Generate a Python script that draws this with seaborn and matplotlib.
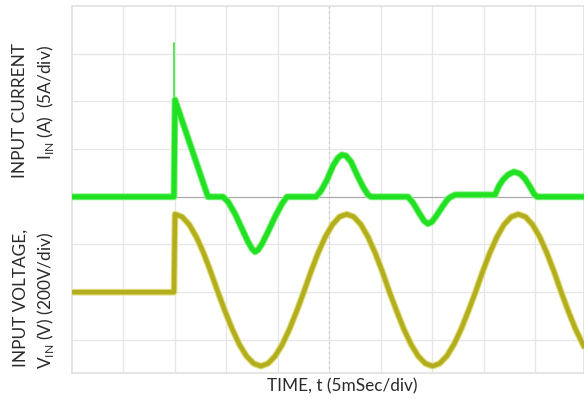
import matplotlib
matplotlib.use("Agg")
import matplotlib.pyplot as plt
import seaborn as sns
import pandas as pd

# ---- data ----
# input current trace (time in ms, current in A)
time_i_ms = [0.00, 9.90, 10.00, 13.20, 14.66, 15.15, 15.83, 16.50, 17.09, 17.48,
             17.77, 18.06, 18.45, 19.03, 19.71, 20.39, 20.87, 23.69, 24.18, 24.76,
             25.34, 25.83, 26.21, 26.60, 27.09, 27.67, 28.25, 28.74, 29.03, 32.62,
             33.11, 33.69, 34.18, 34.56, 34.95, 35.44, 36.02, 36.51, 36.80, 37.20,
             41.07, 41.46, 41.84, 42.33, 42.91, 43.50, 43.98, 44.47, 44.86, 45.15,
             49.71]
current_a = [0.00, 0.00, 10.17, 0.00, 0.00, -0.52, -1.78, -3.35, -4.72, -5.45,
             -5.77, -5.56, -4.93, -3.67, -2.10, -0.73, 0.00, 0.00, 0.63, 1.78,
             3.25, 4.09, 4.40, 4.30, 3.67, 2.31, 1.05, 0.21, 0.00, 0.00,
             -0.63, -1.68, -2.52, -2.83, -2.62, -1.89, -0.94, -0.21, 0.00, 0.21,
             0.21, 1.15, 1.78, 2.31, 2.62, 2.41, 1.89, 1.05, 0.31, 0.00,
             0.00]
# inrush spike at switch-on
spike_t_ms = 9.90
spike_peak_a = 16.1

# input voltage trace (time in ms, voltage in V)
time_v_ms = [0.00, 9.90, 10.00, 10.69, 11.39, 12.08, 12.78, 13.47, 14.17, 14.86,
             15.56, 16.25, 16.94, 17.64, 18.33, 19.03, 19.72, 20.42, 21.11, 21.81,
             22.50, 23.19, 23.89, 24.58, 25.28, 25.97, 26.67, 27.36, 28.06, 28.75,
             29.44, 30.14, 30.83, 31.53, 32.22, 32.92, 33.61, 34.31, 35.00, 35.69,
             36.39, 37.08, 37.78, 38.47, 39.17, 39.86, 40.56, 41.25, 41.94, 42.64,
             43.33, 44.03, 44.72, 45.42, 46.11, 46.81, 47.50, 48.19, 48.89, 49.71]
voltage_v = [0, 0, 327, 316, 283, 231, 164, 85, 0, -80,
             -155, -219, -268, -299, -310, -299, -268, -219, -155, -80,
             0, 85, 164, 231, 283, 316, 327, 316, 283, 231,
             164, 85, 0, -80, -155, -219, -268, -299, -310, -299,
             -268, -219, -155, -80, 0, 85, 164, 231, 283, 316,
             327, 316, 283, 231, 164, 85, 0, -80, -155, -228]

# scope settings
MS_PER_DIV = 5.0
A_PER_DIV = 5.0
V_PER_DIV = 200.0
CUR_ZERO_DIV = 4.0
VOLT_ZERO_DIV = 2.0

df_i = pd.DataFrame({"t": time_i_ms,
                     "y": [CUR_ZERO_DIV + a / A_PER_DIV for a in current_a]})
df_v = pd.DataFrame({"t": time_v_ms,
                     "y": [VOLT_ZERO_DIV + v / V_PER_DIV for v in voltage_v]})

sns.set_style("white")
plt.rcParams["font.family"] = ["Lato", "DejaVu Sans"]
plt.rcParams["mathtext.fontset"] = "custom"
plt.rcParams["mathtext.rm"] = "Lato"

fig = plt.figure(figsize=(5.84, 3.99), dpi=100)
ax = fig.add_axes([72 / 584, 1 - 373 / 399, 512 / 584, 367 / 399])

x_max = 49.71
y_min, y_max = 0.306, 8.0
ax.set_xlim(0, x_max)
ax.set_ylim(y_min, y_max)

# graticule
grid_c = "#e6e6e6"
for k in range(1, 10):
    ax.axvline(k * MS_PER_DIV, color=grid_c, lw=0.9, zorder=0)
for k in range(1, 8):
    ax.axhline(k, color=grid_c, lw=0.9, zorder=0)
ax.axvline(25, color="#bcbcbc", lw=0.9, ls=(0, (1, 3)), zorder=0)
ax.axhline(CUR_ZERO_DIV, color="#a8a8a8", lw=0.8, zorder=0)
ax.set_xticks([])
ax.set_yticks([])
for s in ax.spines.values():
    s.set_color("#e0e0e0")
    s.set_linewidth(1.2)

# traces
sns.lineplot(data=df_v, x="t", y="y", ax=ax, color="#dedb7a", lw=4.8,
             sort=False, estimator=None, zorder=2)
sns.lineplot(data=df_v, x="t", y="y", ax=ax, color="#b3ae1e", lw=3.2,
             sort=False, estimator=None, zorder=3)
ax.plot([spike_t_ms, spike_t_ms],
        [CUR_ZERO_DIV, CUR_ZERO_DIV + spike_peak_a / A_PER_DIV],
        color="#55e855", lw=1.4, zorder=4)
sns.lineplot(data=df_i, x="t", y="y", ax=ax, color="#86f286", lw=5.0,
             sort=False, estimator=None, zorder=4)
sns.lineplot(data=df_i, x="t", y="y", ax=ax, color="#22e022", lw=3.6,
             sort=False, estimator=None, zorder=5)
ax.set_xlabel("")
ax.set_ylabel("")

# labels
tc = "#2a2a2a"
fs = 12.4
fig.text(20 / 584, 1 - 111 / 399, "INPUT CURRENT", rotation=90,
         ha="center", va="center", fontsize=fs, color=tc)
fig.text(45 / 584, 1 - 103 / 399, r"I$_{\mathrm{IN}}$ (A)  (5A/div)", rotation=90,
         ha="center", va="center", fontsize=fs, color=tc)
fig.text(21 / 584, 1 - 298 / 399, "INPUT VOLTAGE,", rotation=90,
         ha="center", va="center", fontsize=fs, color=tc)
fig.text(45 / 584, 1 - 300 / 399, r"V$_{\mathrm{IN}}$ (V) (200V/div)", rotation=90,
         ha="center", va="center", fontsize=fs, color=tc)
fig.text(342 / 584, 1 - 386 / 399, "TIME, t (5mSec/div)",
         ha="center", va="center", fontsize=fs, color=tc)

fig.savefig("out.png", dpi=100)
